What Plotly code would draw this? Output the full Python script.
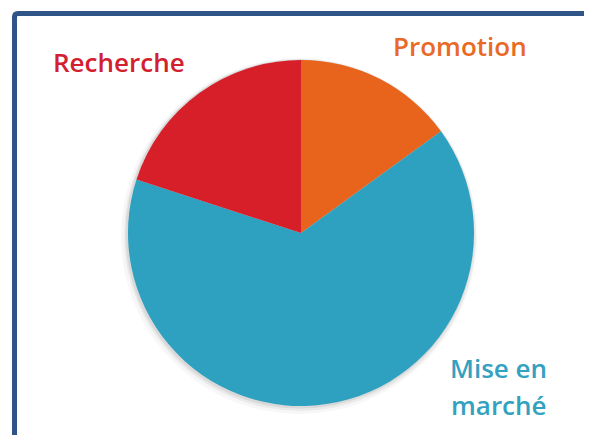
import plotly.graph_objects as go

# The page body has an 8px margin, so the figure is drawn from (8, 8).
OFF = 8
W, H = 592 - OFF, 435 - OFF

categories = ["Promotion", "Mise en marché", "Recherche"]
values = [15, 65, 20]
slice_colors = ["#e8641d", "#2ea1c0", "#d71f2a"]
label_colors = ["#e86a26", "#33a1c0", "#d3202e"]
label_lines = ["Promotion", "Mise en", "marché", "Recherche"]

# pie geometry (window pixels)
cx, cy, r = 301, 233, 173

def px(x):
    return (x - OFF) / W

def py(y):
    return 1 - (y - OFF) / H

fig = go.Figure()
fig.add_trace(go.Pie(
    labels=categories,
    values=values,
    sort=False,
    direction="clockwise",
    rotation=0,
    marker=dict(colors=slice_colors, line=dict(width=0)),
    textinfo="none",
    hoverinfo="label+percent",
    showlegend=False,
    domain=dict(x=[px(cx - r), px(cx + r)], y=[py(cy + r), py(cy - r)]),
))

shapes = []
# soft shadow behind the pie
for grow, dx, dy, op in [(5, -2, 3, 0.03), (3, -1, 2, 0.05), (1.5, -1, 1, 0.07)]:
    rr = r + grow
    shapes.append(dict(
        type="circle", xref="paper", yref="paper", layer="below",
        x0=px(cx + dx - rr), x1=px(cx + dx + rr),
        y0=py(cy + dy + rr), y1=py(cy + dy - rr),
        fillcolor=f"rgba(0,0,0,{op})", line=dict(width=0),
    ))
# frame
shapes.append(dict(
    type="path", xref="paper", yref="paper", layer="above",
    path=(f"M {px(14.5)},{py(445)} L {px(14.5)},{py(17)} "
          f"Q {px(14.5)},{py(13.5)} {px(18)},{py(13.5)} "
          f"L {px(584)},{py(13.5)} Q {px(587.5)},{py(13.5)} {px(587.5)},{py(17)} "
          f"L {px(587.5)},{py(445)}"),
    line=dict(color="#2f5487", width=5),
))

annotations = []
label_specs = [
    (label_lines[0], label_colors[0], 460, 46.5),
    (label_lines[1], label_colors[1], 498.5, 368),
    (label_lines[2], label_colors[1], 499, 405),
    (label_lines[3], label_colors[2], 118.5, 61.5),
]
for txt, col, x, y in label_specs:
    annotations.append(dict(
        text=txt, x=px(x), y=py(y), xref="paper", yref="paper",
        xanchor="center", yanchor="middle", showarrow=False,
        font=dict(family="Open Sans", size=26, color=col, weight=600),
        align="center",
    ))

fig.update_layout(
    width=W, height=H,
    margin=dict(l=0, r=0, t=0, b=0),
    paper_bgcolor="white",
    plot_bgcolor="white",
    shapes=shapes,
    annotations=annotations,
)

fig.write_html("out.html")
